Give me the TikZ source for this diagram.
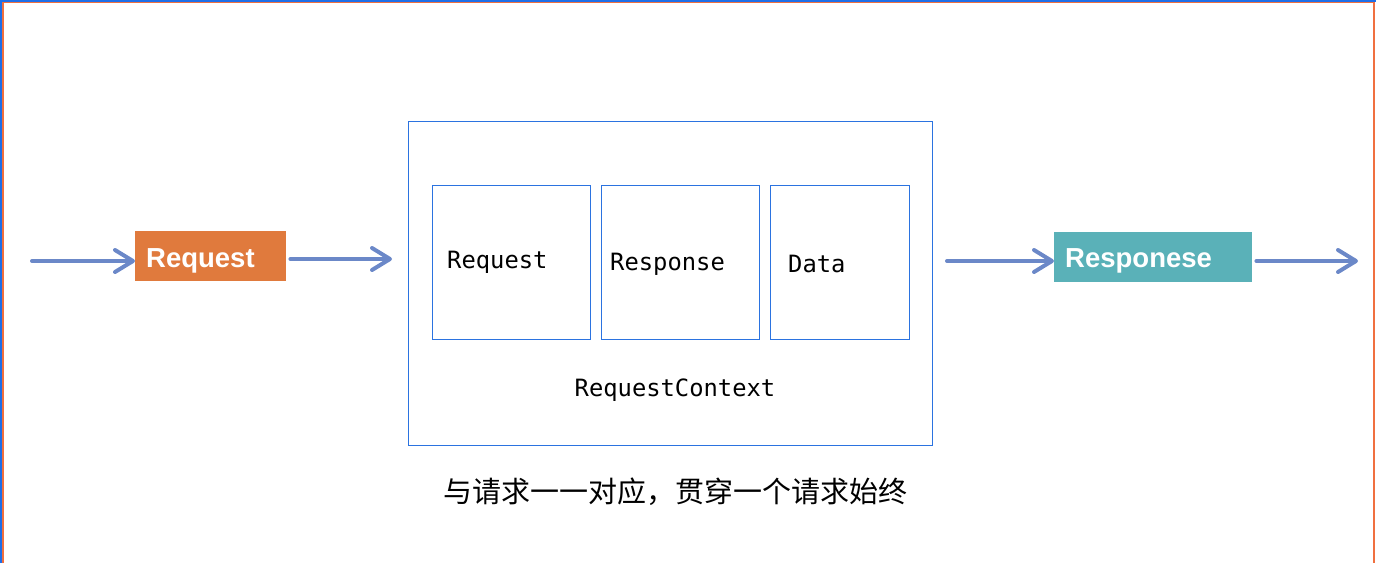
\documentclass[tikz,border=0pt]{standalone}
\usepackage{fontspec}
\setmainfont{Liberation Sans}
\newfontfamily\monofnt{DejaVu Sans Mono}
\newfontfamily\cjkfnt{Noto Sans CJK SC}
\usetikzlibrary{arrows.meta}
\definecolor{arrowblue}{HTML}{6B88C8}
\definecolor{boxorange}{HTML}{E07A3D}
\definecolor{boxteal}{HTML}{5AB1B8}
\definecolor{lineblue}{HTML}{2B73E0}
\definecolor{frameorange}{HTML}{F07040}
\definecolor{frameblue}{HTML}{1E6FE8}
\tikzset{
  flow/.style={draw=arrowblue, line width=4pt, line cap=round,
    -{Straight Barb[length=18pt,width=22pt,round]}},
  tag/.style={inner sep=0pt, minimum height=50pt, anchor=north west},
  tagtext/.style={anchor=base west, inner sep=0pt, text=white,
    font=\fontsize{27.5pt}{30pt}\selectfont\bfseries},
  part/.style={draw=lineblue, line width=1.2pt, inner sep=0pt, anchor=north west},
  monotext/.style={font=\monofnt\fontsize{23.8pt}{26pt}\selectfont, inner sep=0pt, text=black},
}
\begin{document}
\begin{tikzpicture}[x=1pt,y=-1pt]
\useasboundingbox (0,0) rectangle (1376,563);
% frame
\draw[frameblue, line width=2pt] (1,563) -- (1,1) -- (1376,1);
\draw[frameorange, line width=1.5pt] (3,563) -- (3,2.5) -- (1374,2.5) -- (1374,563);
% tags
\node[tag, fill=boxorange, minimum width=151pt] (req) at (135,231) {};
\node[tagtext] (reqt) at (146,267) {Request};
\node[tag, fill=boxteal, minimum width=198pt] (resp) at (1054,232) {};
\node[tagtext] (respt) at (1065,267) {Responese};
% context box
\node[part, minimum width=524pt, minimum height=324pt] (ctx) at (408,121) {};
\node[part, minimum width=158pt, minimum height=154pt] (b1) at (432,185) {};
\node[part, minimum width=158pt, minimum height=154pt] (b2) at (601,185) {};
\node[part, minimum width=139pt, minimum height=154pt] (b3) at (770,185) {};
\node[monotext, anchor=base west] (t1) at (447,268) {Request};
\node[monotext, anchor=base west] (t2) at (610,270) {Response};
\node[monotext, anchor=base west] (t3) at (788,272) {Data};
\node[monotext, anchor=base] (tc) at (675,396) {RequestContext};
\node[font=\cjkfnt\fontsize{29pt}{32pt}\selectfont, inner sep=0pt] (note) at (675,492) {与请求一一对应，贯穿一个请求始终};
% arrows
\coordinate (in) at (32,261);
\coordinate (out) at (1358,261);
\draw[flow] (in) -- (req.west |- in);
\draw[flow] (req.east |- 0,259) ++(4,0) -- (392,259);
\draw[flow] (947,261) -- (resp.west |- 0,261);
\draw[flow] (resp.east |- out) ++(4,0) -- (out);
\end{tikzpicture}
\end{document}
